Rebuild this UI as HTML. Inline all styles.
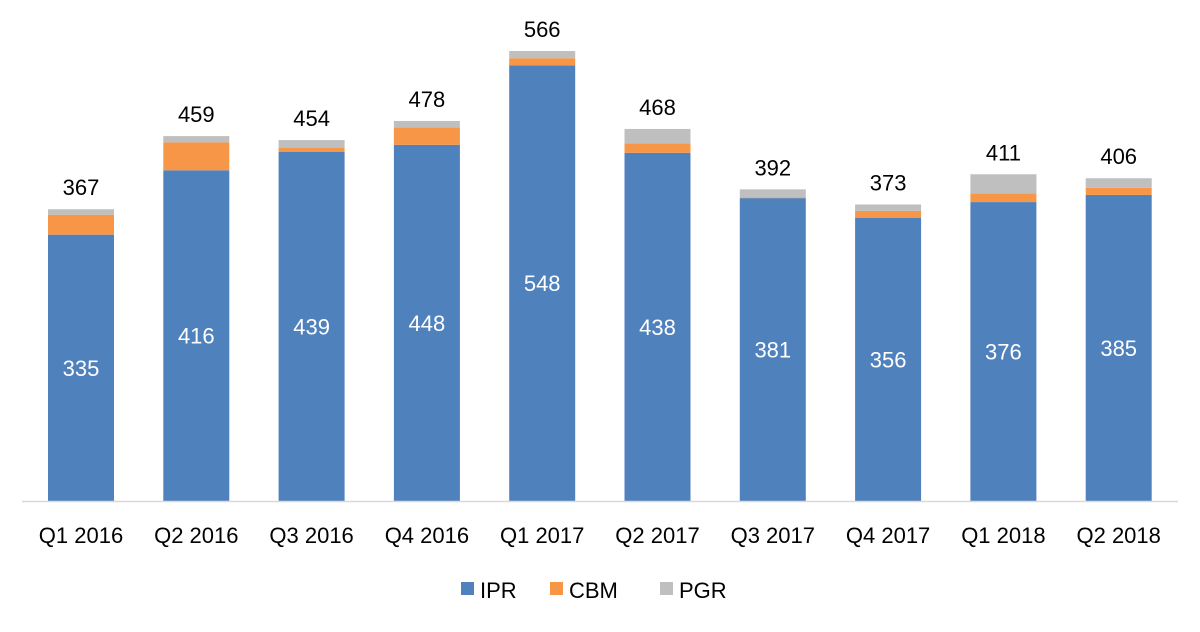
<!DOCTYPE html>
<html><head><meta charset="utf-8"><style>
body{margin:0;background:#fff;width:1200px;height:627px;overflow:hidden;font-family:"Liberation Sans",Arial,sans-serif}
</style></head><body>
<svg id="chart" width="1200" height="627" xmlns="http://www.w3.org/2000/svg"></svg>
<script>
const categories=["Q1 2016","Q2 2016","Q3 2016","Q4 2016","Q1 2017","Q2 2017","Q3 2017","Q4 2017","Q1 2018","Q2 2018"];
const ipr=[335,416,439,448,548,438,381,356,376,385];
const cbm=[25,35,5,22,9,12,1,9,11,9];
const pgr=[7,8,10,8,9,18,10,8,24,12];
const totals=[367,459,454,478,566,468,392,373,411,406];
const seriesNames=["IPR","CBM","PGR"];
const colors=["#4F81BD","#F79646","#BFBFBF"];

const svg=document.getElementById('chart');
const NS="http://www.w3.org/2000/svg";
const baseY=501, scale=0.795, x0=81, step=115.3, bw=66;
const yPos=v=>baseY-v*scale;
const xPos=i=>x0+i*step;
function mk(tag,attrs,text){const e=document.createElementNS(NS,tag);for(const k in attrs)e.setAttribute(k,attrs[k]);if(text!==undefined)e.textContent=text;svg.appendChild(e);return e;}

const series=[ipr,cbm,pgr];
categories.forEach((c,i)=>{
  let acc=0;
  series.forEach((s,si)=>{
    const r=mk('rect',{x:xPos(i)-bw/2,y:yPos(acc+s[i]),width:bw,height:s[i]*scale,fill:colors[si]});
    
    
    acc+=s[i];
  });
  const t=mk('text',{x:xPos(i),y:yPos(ipr[i]/2)+8,'text-anchor':'middle','font-size':22,fill:'#fff'},ipr[i]);
  
  
  const tt=mk('text',{x:xPos(i),y:yPos(acc)-14,'text-anchor':'middle','font-size':22,fill:'#000'},totals[i]);
  
  
  const xl=mk('text',{x:xPos(i),y:543,'text-anchor':'middle','font-size':22,fill:'#000'},c);
  
  
});
const ax=mk('line',{x1:22,x2:1178,y1:baseY+0.5,y2:baseY+0.5,stroke:'#D9D9D9','stroke-width':1.5});


const lx=[461,550,660];
seriesNames.forEach((n,si)=>{
  const r=mk('rect',{x:lx[si],y:582,width:13,height:13,fill:colors[si]});
  
  
  const t=mk('text',{x:lx[si]+19,y:598,'font-size':22,fill:'#000'},n);
  
  
});
</script>
</body></html>
